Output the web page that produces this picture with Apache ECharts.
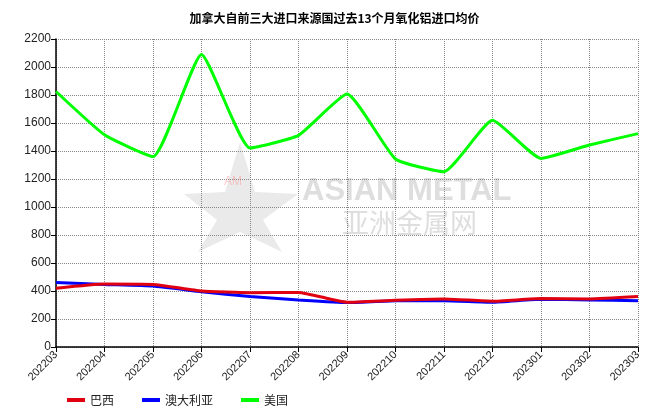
<!DOCTYPE html>
<html><head><meta charset="utf-8">
<script src="https://cdn.jsdelivr.net/npm/echarts@6/dist/echarts.min.js"></script>
<style>html,body{margin:0;padding:0;background:#fff}#c{width:669px;height:418px}</style>
</head><body><div id="c"></div>
<script>
var categories = ['202203','202204','202205','202206','202207','202208','202209','202210','202211','202212','202301','202302','202303'];
var brazil = [420, 450, 447, 400, 388, 390, 320, 334, 343, 327, 346, 343, 360];
var australia = [461, 447, 435, 395, 360, 336, 317, 331, 331, 320, 341, 336, 331];
var usa = [1825, 1516, 1360, 2090, 1422, 1512, 1807, 1343, 1252, 1619, 1347, 1443, 1524];
var yTicks = {min: 0, max: 2200, interval: 200};
var seriesNames = ['巴西', '澳大利亚', '美国'];
var colors = ['#e00010', '#0000ff', '#00ff00'];

var chart = echarts.init(document.getElementById('c'));
var font = 'Arial, "Liberation Sans", "Noto Sans CJK SC", sans-serif';
function mk(name, data, color, z) {
  return {name: name, type: 'line', data: data, smooth: 0.15, symbol: 'none', z: z,
    lineStyle: {color: color, width: 3}, itemStyle: {color: color}};
}
chart.setOption({
  animation: false,
  title: {text: '加拿大自前三大进口来源国过去13个月氧化铝进口均价', left: 'center', top: 7,
    textStyle: {fontSize: 12, fontWeight: 'bold', color: '#000', fontFamily: '"Noto Sans CJK SC", sans-serif'}},
  graphic: [
    {type: 'polygon', z: 0, shape: {points: [[240,142],[255,192],[298,194],[263,220],[282,252],[240,232],[198,252],[217,220],[184,194],[225,192]]},
      style: {fill: 'rgba(195,195,195,0.35)'}},
    {type: 'text', z: 0, left: 224, top: 176, style: {text: 'AM', fill: 'rgba(255,150,150,0.5)', font: '12px Arial'}},
    {type: 'text', z: 0, left: 302, top: 176, style: {text: 'ASIAN METAL', fill: 'rgba(190,190,190,0.5)', font: 'bold 31px Arial, sans-serif'}},
    {type: 'text', z: 0, left: 342, top: 209, style: {text: '亚洲金属网', fill: 'rgba(190,190,190,0.5)', font: '27px "Noto Sans CJK SC", sans-serif'}}
  ],
  legend: {data: seriesNames, left: 62, bottom: 7, itemWidth: 18, itemHeight: 4, itemGap: 28,
    icon: 'rect', textStyle: {fontSize: 12, color: '#222', fontFamily: '"Noto Sans CJK SC", sans-serif'}},
  grid: {left: 56, right: 31, top: 39, bottom: 71},
  xAxis: {type: 'category', data: categories, boundaryGap: false,
    axisLine: {lineStyle: {color: '#000', width: 1.5}},
    axisTick: {show: true, length: 5, lineStyle: {color: '#000'}},
    axisLabel: {rotate: 45, fontSize: 11, color: '#222', fontFamily: font, margin: 6},
    splitLine: {show: true, lineStyle: {color: '#888', type: [1, 1], width: 1}}},
  yAxis: {type: 'value', min: yTicks.min, max: yTicks.max, interval: yTicks.interval,
    axisLine: {show: true, lineStyle: {color: '#000', width: 1.5}},
    axisTick: {show: true, length: 5, lineStyle: {color: '#000'}},
    axisLabel: {fontSize: 12, color: '#222', fontFamily: font, margin: 5, formatter: function (v) { return String(v); }},
    splitLine: {show: true, lineStyle: {color: '#888', type: [1, 1], width: 1}}},
  series: [mk(seriesNames[0], brazil, colors[0], 4), mk(seriesNames[1], australia, colors[1], 3), mk(seriesNames[2], usa, colors[2], 2)]
});
</script></body></html>
